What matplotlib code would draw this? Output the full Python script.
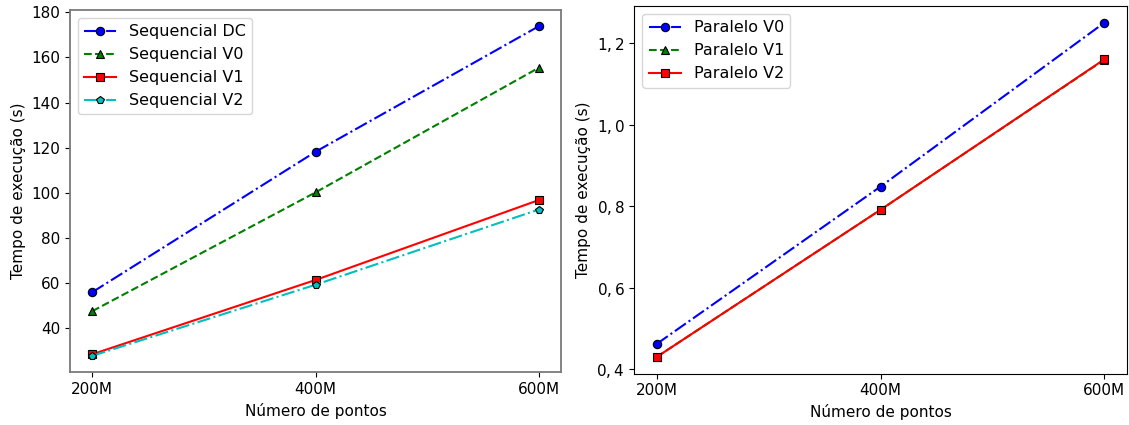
import matplotlib
matplotlib.use('Agg')
import matplotlib.pyplot as plt
from matplotlib.ticker import FuncFormatter

pontos = [200, 400, 600]
rotulos_x = ['200M', '400M', '600M']

seq_dc = [56.0, 118.2, 173.8]
seq_v0 = [47.6, 100.2, 155.4]
seq_v1 = [28.5, 61.4, 96.8]
seq_v2 = [27.8, 59.3, 92.6]

par_v0 = [0.463, 0.849, 1.251]
par_v1 = [0.431, 0.792, 1.160]
par_v2 = [0.431, 0.792, 1.161]

fig = plt.figure(figsize=(11.29, 4.25), dpi=100)
ax1 = fig.add_axes([0.062, 0.124, 0.435, 0.853])
ax2 = fig.add_axes([0.562, 0.121, 0.436, 0.865])

mk = dict(markeredgecolor='k', markersize=6, markeredgewidth=0.8)

ax1.plot(pontos, seq_dc, 'b-.', marker='o', label='Sequencial DC', **mk)
ax1.plot(pontos, seq_v0, 'g--', marker='^', label='Sequencial V0', **mk)
ax1.plot(pontos, seq_v1, 'r-', marker='s', label='Sequencial V1', **mk)
ax1.plot(pontos, seq_v2, 'c-.', marker='p', label='Sequencial V2', **mk)

ax2.plot(pontos, par_v0, 'b-.', marker='o', label='Paralelo V0', **mk)
ax2.plot(pontos, par_v1, 'g--', marker='^', label='Paralelo V1', **mk)
ax2.plot(pontos, par_v2, 'r-', marker='s', label='Paralelo V2', **mk)

for ax in (ax1, ax2):
    ax.set_xticks(pontos)
    ax.set_xticklabels(rotulos_x)
    ax.set_xlabel('Número de pontos', fontsize=11)
    ax.set_ylabel('Tempo de execução (s)', fontsize=11)
    ax.tick_params(labelsize=11)
    ax.legend(loc='upper left', fontsize=11.5)

for s in ax1.spines.values():
    s.set_color('#7a7a7a')
    s.set_linewidth(1.3)

ax2.set_yticks([0.4, 0.6, 0.8, 1.0, 1.2])
ax2.yaxis.set_major_formatter(FuncFormatter(lambda v, p: ('$%.1f$' % v).replace('.', ',')))

fig.savefig('out.png', dpi=100)
